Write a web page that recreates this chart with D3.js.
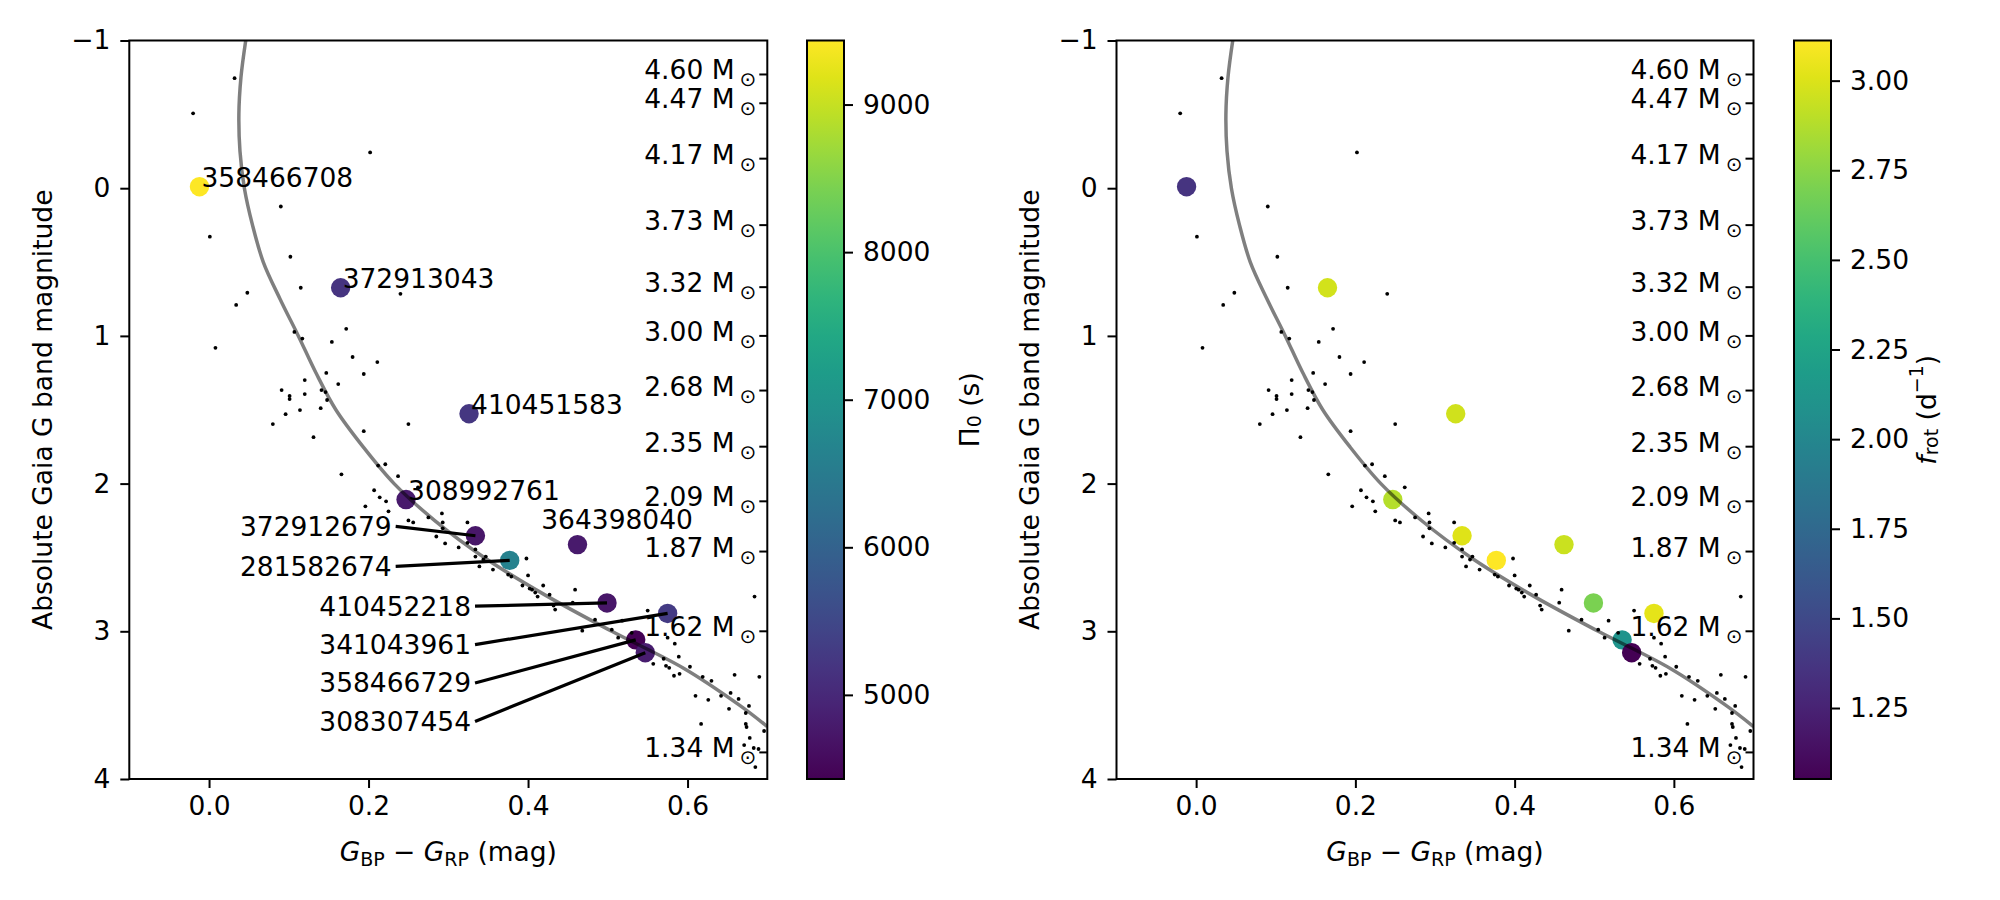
<!DOCTYPE html>
<html>
<head>
<meta charset="utf-8">
<script src="https://cdn.jsdelivr.net/npm/d3@7"></script>
<style>
  body { margin: 0; background: #fff; }
  text { font-family: "DejaVu Sans", sans-serif; fill: #000; }
</style>
</head>
<body>
<div id="chart"></div>
<script>
// axis ticks
const xTicks = [0.0, 0.2, 0.4, 0.6];
const yTicks = [-1, 0, 1, 2, 3, 4];
const pi0Ticks = [5000, 6000, 7000, 8000, 9000];
const frotTicks = [1.25, 1.5, 1.75, 2.0, 2.25, 2.5, 2.75, 3.0];

// mass labels on the right spine (magnitude where the track has that mass)
const massLabels = ["4.60", "4.47", "4.17", "3.73", "3.32", "3.00", "2.68", "2.35", "2.09", "1.87", "1.62", "1.34"];
const massMags = [-0.77, -0.575, -0.2, 0.25, 0.67, 1.0, 1.37, 1.75, 2.12, 2.46, 3.0, 3.82];

// labelled stars
const starIds = ["358466708", "372913043", "410451583", "308992761", "372912679", "281582674",
  "364398040", "410452218", "341043961", "358466729", "308307454"];
const starBpRp = [-0.012, 0.165, 0.326, 0.247, 0.334, 0.377, 0.462, 0.499, 0.575, 0.535, 0.547];
const starMag = [-0.01, 0.674, 1.527, 2.108, 2.353, 2.52, 2.413, 2.808, 2.879, 3.058, 3.145];
const starPi0 = [9434, 5180, 5230, 4780, 4730, 6650, 4780, 4730, 5300, 4430, 4830];
const starFrot = [1.36, 2.97, 2.96, 2.88, 3.01, 3.112, 2.95, 2.70, 3.03, 2.12, 1.052];
// label placement (text x, text y, leader line or not)
const labelX = [-0.012, 0.165, 0.326, 0.247, 0.229, 0.229, 0.414, 0.3285, 0.3285, 0.3285, 0.3285];
const labelY = [-0.01, 0.674, 1.527, 2.108, 2.29, 2.56, 2.307, 2.83, 3.09, 3.35, 3.61];
const labelLeader = [false, false, false, false, true, true, false, true, true, true, true];

// field stars (small black dots)
const fieldBpRp = [0.032, -0.020, 0.202, 0.090, 0.001, 0.102, 0.115, 0.048, 0.034, 0.240, 0.172, 0.107, 0.117,
  0.008, 0.154, 0.180, 0.211, 0.194, 0.147, 0.120, 0.162, 0.091, 0.141, 0.146, 0.101, 0.101, 0.120, 0.148,
  0.140, 0.114, 0.096, 0.080, 0.131, 0.194, 0.250, 0.212, 0.221, 0.237, 0.166, 0.262, 0.207, 0.214, 0.222,
  0.196, 0.225, 0.250, 0.256, 0.275, 0.292, 0.293, 0.293, 0.285, 0.296, 0.313, 0.324, 0.324, 0.334, 0.334,
  0.344, 0.347, 0.339, 0.356, 0.375, 0.379, 0.393,
  0.398, 0.400, 0.402, 0.405, 0.409, 0.412, 0.419, 0.427, 0.432, 0.434, 0.459, 0.456, 0.484, 0.468, 0.505,
  0.518, 0.513, 0.530, 0.550, 0.557, 0.570, 0.573, 0.577, 0.575, 0.584, 0.589, 0.583, 0.590, 0.603, 0.619,
  0.630, 0.610, 0.626, 0.642, 0.654, 0.659, 0.664, 0.652, 0.677, 0.673, 0.684, 0.690, 0.617, 0.673, 0.674,
  0.696, 0.678, 0.671, 0.683, 0.689, 0.685];
const fieldMag = [-0.745, -0.507, -0.242, 0.124, 0.328, 0.464, 0.674, 0.708, 0.790, 0.715, 0.952, 0.973, 1.018,
  1.081, 1.041, 1.143, 1.177, 1.258, 1.251, 1.299, 1.326, 1.367, 1.367, 1.380, 1.407, 1.428, 1.394, 1.434,
  1.489, 1.502, 1.530, 1.597, 1.686, 1.645, 1.597, 1.878, 1.869, 1.950, 1.937, 2.025, 2.045, 2.093, 2.120,
  2.154, 2.188, 2.249, 2.263, 2.229, 2.202, 2.263, 2.303, 2.358, 2.405, 2.432, 2.263, 2.401, 2.446, 2.494,
  2.514, 2.494, 2.561, 2.582, 2.616, 2.629, 2.690,
  2.507, 2.622, 2.711, 2.718, 2.738, 2.765, 2.690, 2.752, 2.826, 2.853, 2.718, 2.806, 2.921, 2.996, 2.989,
  2.928, 3.043, 3.010, 2.860, 3.220, 3.186, 3.234, 3.247, 3.043, 3.084, 3.172, 3.301, 3.288, 3.240, 3.308,
  3.335, 3.437, 3.464, 3.437, 3.417, 3.295, 3.458, 3.525, 3.505, 3.553, 2.765, 3.308, 3.627, 3.627, 3.648,
  3.675, 3.722, 3.770, 3.790, 3.797, 3.919];

// evolutionary track (grey line)
const trackMag = [-1.0, -0.75, -0.5, -0.25, 0.0, 0.25, 0.5, 0.75, 1.0, 1.25, 1.5, 1.75, 2.0, 2.25,
  2.5, 2.75, 3.0, 3.25, 3.5, 3.645];
const trackBpRp = [0.046, 0.040, 0.0374, 0.0388, 0.0443, 0.0545, 0.068, 0.089, 0.112, 0.134, 0.159, 0.193,
  0.232, 0.283, 0.345, 0.42, 0.505, 0.595, 0.665, 0.700];

const svg = d3.select("#chart").append("svg").attr("width", 2000).attr("height", 900);

const top_ = 40.5, bottom_ = 779;
const y = d3.scaleLinear().domain([-1, 4]).range([top_, bottom_]);
const FS = 26.5;

function drawPanel(x0, x1, values, domain, showLabels) {
  const x = d3.scaleLinear().domain([-0.1, 0.7]).range([x0, x1]);
  const color = d3.scaleSequential(d3.interpolateViridis).domain(domain);
  const g = svg.append("g");

  const clipId = "clip" + Math.round(x0);
  svg.append("clipPath").attr("id", clipId).append("rect")
    .attr("x", x0).attr("y", top_).attr("width", x1 - x0).attr("height", bottom_ - top_);
  const inner = g.append("g").attr("clip-path", `url(#${clipId})`);

  // big coloured stars
  inner.selectAll("circle.star").data(starIds).join("circle").attr("class", "star")
    .attr("cx", (d, i) => x(starBpRp[i])).attr("cy", (d, i) => y(starMag[i]))
    .attr("r", 9.7).attr("fill", (d, i) => color(values[i]));

  // field stars
  inner.selectAll("circle.field").data(fieldBpRp).join("circle").attr("class", "field")
    .attr("cx", (d) => x(d)).attr("cy", (d, i) => y(fieldMag[i]))
    .attr("r", 1.9).attr("fill", "#000");

  // track
  const line = d3.line().x((d) => x(d)).y((d, i) => y(trackMag[i])).curve(d3.curveCatmullRom);
  inner.append("path").datum(trackBpRp).attr("d", line)
    .attr("fill", "none").attr("stroke", "#000").attr("stroke-opacity", 0.5).attr("stroke-width", 3.5);

  // annotations
  if (showLabels) {
    starIds.forEach((id, i) => {
      const tx = x(labelX[i]);
      const ty = y(labelY[i]);
      if (labelLeader[i]) {
        g.append("line")
          .attr("x1", tx + 4).attr("y1", ty)
          .attr("x2", x(starBpRp[i])).attr("y2", y(starMag[i]))
          .attr("stroke", "#000").attr("stroke-width", 3.2);
        g.append("text").attr("x", tx).attr("y", ty + 9.5)
          .attr("text-anchor", "end").style("font-size", FS + "px").text(id);
      } else {
        g.append("text").attr("x", tx + 2).attr("y", ty)
          .attr("text-anchor", "start").style("font-size", FS + "px").text(id);
      }
    });
  }

  // mass ticks inside right spine
  const mg = g.append("g");
  massLabels.forEach((m, i) => {
    const yy = y(massMags[i]);
    mg.append("line").attr("x1", x1 - 8).attr("x2", x1).attr("y1", yy).attr("y2", yy)
      .attr("stroke", "#000").attr("stroke-width", 2);
    const t = mg.append("text").attr("x", x1 - 11).attr("y", yy + 5)
      .attr("text-anchor", "end").style("font-size", FS + "px");
    t.append("tspan").text(m + " M");
    t.append("tspan").attr("dx", 5).attr("dy", 7).style("font-size", "20px").text("\u2299");
  });

  // axes
  const xa = g.append("g").attr("transform", `translate(0,${bottom_})`)
    .call(d3.axisBottom(x).tickValues(xTicks).tickFormat(d3.format(".1f")).tickSize(9).tickPadding(8));
  const ya = g.append("g").attr("transform", `translate(${x0},0)`)
    .call(d3.axisLeft(y).tickValues(yTicks).tickFormat((d) => (d < 0 ? "\u2212" + Math.abs(d) : d)).tickSize(9).tickPadding(10));
  [xa, ya].forEach((a) => {
    a.select(".domain").remove();
    a.selectAll(".tick line").attr("stroke", "#000").attr("stroke-width", 2);
    a.selectAll(".tick text").style("font-size", FS + "px").attr("font-family", "DejaVu Sans").attr("fill", "#000");
  });

  g.append("rect").attr("x", x0).attr("y", top_).attr("width", x1 - x0).attr("height", bottom_ - top_)
    .attr("fill", "none").attr("stroke", "#000").attr("stroke-width", 2);

  // x label
  const xl = g.append("text").attr("x", (x0 + x1) / 2).attr("y", 861)
    .attr("text-anchor", "middle").style("font-size", FS + "px");
  xl.append("tspan").style("font-style", "italic").text("G");
  xl.append("tspan").attr("dy", 5).style("font-size", "19px").text("BP");
  xl.append("tspan").attr("dy", -5).text(" \u2212 ");
  xl.append("tspan").style("font-style", "italic").text("G");
  xl.append("tspan").attr("dy", 5).style("font-size", "19px").text("RP");
  xl.append("tspan").attr("dy", -5).text(" (mag)");

  // y label
  g.append("text").attr("transform", `translate(${x0 - 87},${(top_ + bottom_) / 2}) rotate(-90)`)
    .attr("text-anchor", "middle").attr("dominant-baseline", "central")
    .style("font-size", FS + "px").text("Absolute Gaia G band magnitude");
}

function drawColorbar(cx0, cx1, domain, ticks, fmt, labelX, labelFn) {
  const gid = "grad" + Math.round(cx0);
  const grad = svg.append("defs").append("linearGradient").attr("id", gid)
    .attr("x1", 0).attr("y1", 1).attr("x2", 0).attr("y2", 0);
  d3.range(0, 1.0001, 0.05).forEach((t) => {
    grad.append("stop").attr("offset", t).attr("stop-color", d3.interpolateViridis(t));
  });
  const cs = d3.scaleLinear().domain(domain).range([bottom_, top_]);
  const g = svg.append("g");
  g.append("rect").attr("x", cx0).attr("y", top_).attr("width", cx1 - cx0).attr("height", bottom_ - top_)
    .attr("fill", `url(#${gid})`).attr("stroke", "#000").attr("stroke-width", 2);
  const a = g.append("g").attr("transform", `translate(${cx1},0)`)
    .call(d3.axisRight(cs).tickValues(ticks).tickFormat(fmt).tickSize(9).tickPadding(10));
  a.select(".domain").remove();
  a.selectAll(".tick line").attr("stroke", "#000").attr("stroke-width", 2);
  a.selectAll(".tick text").style("font-size", FS + "px").attr("font-family", "DejaVu Sans").attr("fill", "#000");
  const lt = g.append("text").attr("transform", `translate(${labelX},${(top_ + bottom_) / 2}) rotate(-90)`)
    .attr("text-anchor", "middle").attr("dominant-baseline", "central").style("font-size", FS + "px");
  labelFn(lt);
}

drawPanel(129.3, 767.3, starPi0, [4430, 9434], true);
drawPanel(1116.5, 1753.5, starFrot, [1.052, 3.112], false);

drawColorbar(807, 844, [4430, 9434], pi0Ticks, d3.format("d"), 969, (t) => {
  t.append("tspan").text("\u03A0");
  t.append("tspan").attr("dy", 5).style("font-size", "19px").text("0");
  t.append("tspan").attr("dy", -5).text(" (s)");
});
drawColorbar(1794, 1831, [1.052, 3.112], frotTicks, d3.format(".2f"), 1926, (t) => {
  t.append("tspan").style("font-style", "italic").text("f");
  t.append("tspan").attr("dy", 5).style("font-size", "19px").text("rot");
  t.append("tspan").attr("dy", -5).text(" (d");
  t.append("tspan").attr("dy", -10).style("font-size", "19px").text("\u22121");
  t.append("tspan").attr("dy", 10).text(")");
});
</script>
</body>
</html>
